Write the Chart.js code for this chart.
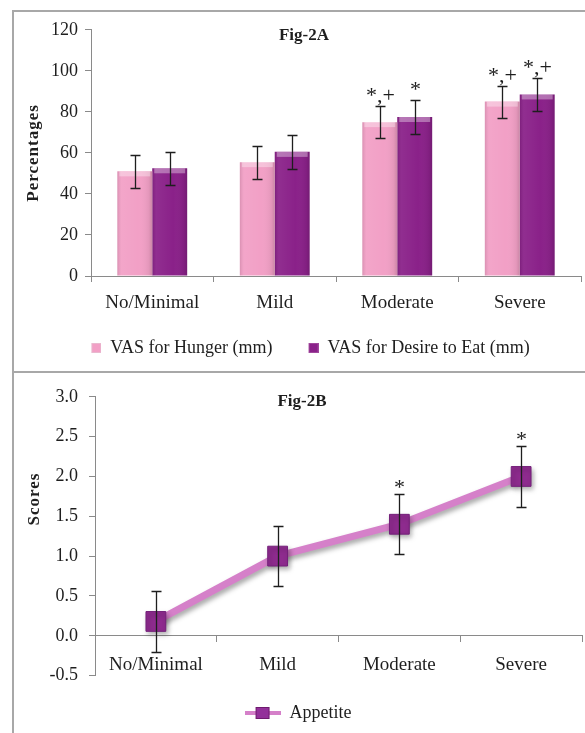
<!DOCTYPE html>
<html>
<head>
<meta charset="utf-8">
<script src="https://cdn.jsdelivr.net/npm/chart.js@4/dist/chart.umd.min.js"></script>
<style>
  html, body { margin: 0; padding: 0; background: #fff; width: 585px; height: 733px; overflow: hidden; }
  .panel { position: absolute; left: 12px; width: 620px; border: 2px solid #a8a8a8; box-sizing: border-box; }
  #panelA { top: 10px; height: 363px; }
  #panelB { top: 371px; height: 400px; }
  canvas { position: absolute; }
</style>
</head>
<body>
<div class="panel" id="panelA"></div>
<div class="panel" id="panelB"></div>
<canvas id="fig2a" width="571" height="359" style="left:14px;top:12px;width:571px;height:359px"></canvas>
<canvas id="fig2b" width="571" height="358" style="left:14px;top:375px;width:571px;height:358px"></canvas>
<script>
// ---- data ----
const severity = ['No/Minimal', 'Mild', 'Moderate', 'Severe'];

const hungerVAS = [51, 55.5, 75, 85];
const hungerErr = [8, 8, 7.8, 7.8];
const hungerMarks = ['', '', '*,+', '*,+'];

const desireVAS = [52.5, 60.5, 77.5, 88.5];
const desireErr = [8.1, 8.2, 8.2, 8.1];
const desireMarks = ['', '', '*', '*,+'];

const percentTicks = [0, 20, 40, 60, 80, 100, 120];

const appetite = [0.18, 1.0, 1.4, 2.0];
const appetiteErr = [0.38, 0.38, 0.375, 0.38];
const appetiteMarks = ['', '', '*', '*'];

const scoreTicks = [-0.5, 0, 0.5, 1.0, 1.5, 2.0, 2.5, 3.0];

// ---- styling ----
const serif = '"Liberation Serif", "Times New Roman", serif';
const ink = '#1e1e1e';
const axisGray = '#8a8a8a';
const pink = '#f2a0c6';
const purple = '#8a2189';
const lineColor = '#d580c9';

function squareSwatch(fill, edge, w) {
  const c = document.createElement('canvas');
  c.width = w; c.height = 10;
  const g = c.getContext('2d');
  g.fillStyle = edge; g.fillRect(w - 10, 0, 10, 10);
  g.fillStyle = fill; g.fillRect(w - 9, 1, 8, 8);
  return c;
}
function lineSwatch() {
  const c = document.createElement('canvas');
  c.width = 36; c.height = 14;
  const g = c.getContext('2d');
  g.strokeStyle = lineColor; g.lineWidth = 4;
  g.beginPath(); g.moveTo(0, 7); g.lineTo(36, 7); g.stroke();
  g.fillStyle = '#6e1a6e'; g.fillRect(11, 1, 14, 12);
  g.fillStyle = '#93309a'; g.fillRect(12, 2, 12, 10);
  return c;
}

// error bars plus significance marks above them
const errorBars = {
  id: 'errorBars',
  afterDatasetsDraw(chart, args, opts) {
    const ctx = chart.ctx;
    const y = chart.scales.y;
    ctx.save();
    ctx.strokeStyle = ink;
    ctx.lineWidth = 1.3;
    ctx.fillStyle = ink;
    ctx.font = opts.markSize + 'px ' + serif;
    ctx.textAlign = 'center';
    ctx.textBaseline = 'alphabetic';
    chart.data.datasets.forEach((ds, i) => {
      if (!ds.errors) return;
      chart.getDatasetMeta(i).data.forEach((el, j) => {
        const v = ds.data[j], e = ds.errors[j];
        const x = Math.round(el.x) + 0.5;
        const top = Math.round(y.getPixelForValue(v + e)) + 0.5;
        const bot = Math.round(y.getPixelForValue(v - e)) + 0.5;
        const cap = 5;
        ctx.beginPath();
        ctx.moveTo(x, top); ctx.lineTo(x, bot);
        ctx.moveTo(x - cap, top); ctx.lineTo(x + cap, top);
        ctx.moveTo(x - cap, bot); ctx.lineTo(x + cap, bot);
        ctx.stroke();
        const mark = ds.marks && ds.marks[j];
        if (mark) ctx.fillText(mark, x, top - opts.markGap);
      });
    });
    ctx.restore();
  }
};

// soft bevel on each bar: light top band, shaded sides
const barSheen = {
  id: 'barSheen',
  afterDatasetsDraw(chart) {
    const ctx = chart.ctx;
    ctx.save();
    chart.data.datasets.forEach((ds, i) => {
      chart.getDatasetMeta(i).data.forEach(el => {
        const left = el.x - el.width / 2, w = el.width;
        const top = el.y, h = el.base - el.y;
        const g = ctx.createLinearGradient(left, 0, left + w, 0);
        g.addColorStop(0, 'rgba(0,0,0,0.10)');
        g.addColorStop(0.12, 'rgba(255,255,255,0.06)');
        g.addColorStop(0.6, 'rgba(255,255,255,0)');
        g.addColorStop(0.9, 'rgba(0,0,0,0.06)');
        g.addColorStop(1, 'rgba(0,0,0,0.16)');
        ctx.fillStyle = g;
        ctx.fillRect(left, top, w, h);
        ctx.fillStyle = 'rgba(255,255,255,0.35)';
        ctx.fillRect(left + 2, top, w - 4, 5);
      });
    });
    ctx.restore();
  }
};

// drop shadow under the line and its markers
const lineShadow = {
  id: 'lineShadow',
  beforeDatasetsDraw(chart) {
    const ctx = chart.ctx;
    ctx.save();
    ctx.shadowColor = 'rgba(0,0,0,0.35)';
    ctx.shadowBlur = 5;
    ctx.shadowOffsetX = 2;
    ctx.shadowOffsetY = 3;
  },
  afterDatasetsDraw(chart) { chart.ctx.restore(); }
};

// panel heading inside the top of the plot area, and the rotated axis caption
const panelTitle = {
  id: 'panelTitle',
  afterDraw(chart, args, opts) {
    const ctx = chart.ctx;
    const a = chart.chartArea;
    ctx.save();
    ctx.font = 'bold 17px ' + serif;
    ctx.fillStyle = ink;
    ctx.textAlign = 'center';
    ctx.textBaseline = 'middle';
    ctx.fillText(opts.text, chart.width / 2 + opts.dx, a.top + opts.dy);
    ctx.translate(opts.sideX, a.top + (a.bottom - a.top) * opts.sideAt);
    ctx.rotate(-Math.PI / 2);
    ctx.letterSpacing = '1px';
    ctx.fillText(opts.sideText, 0, 0);
    ctx.restore();
  }
};

const tickFont = { family: serif, size: 18 };
const catFont = { family: serif, size: 19 };
const legendFont = { family: serif, size: 18 };

// ---- Fig-2A: grouped bars ----
const swatchesA = [squareSwatch(pink, '#e9b9cf', 36), squareSwatch(purple, '#a0489c', 36)];
new Chart(document.getElementById('fig2a'), {
  type: 'bar',
  data: {
    labels: severity,
    datasets: [
      { label: 'VAS for Hunger (mm)', data: hungerVAS, errors: hungerErr, marks: hungerMarks,
        backgroundColor: pink, borderWidth: 0 },
      { label: 'VAS for Desire to Eat (mm)', data: desireVAS, errors: desireErr, marks: desireMarks,
        backgroundColor: purple, borderWidth: 0 }
    ]
  },
  options: {
    responsive: false,
    animation: false,
    layout: { padding: { top: 17, right: 4, bottom: 4, left: 0 } },
    datasets: { bar: { categoryPercentage: 0.57, barPercentage: 1 } },
    scales: {
      x: {
        grid: { drawOnChartArea: false, offset: true, tickLength: 6, color: axisGray },
        border: { color: axisGray },
        ticks: { font: catFont, color: ink, padding: 10 },
        afterFit: s => { s.height = 53; }
      },
      y: {
        min: 0, max: 120,
        afterBuildTicks: s => { s.ticks = percentTicks.map(v => ({ value: v })); },
        grid: { drawOnChartArea: false, tickLength: 6, color: axisGray },
        border: { color: axisGray },
        ticks: { font: tickFont, color: ink, padding: 7 },
        afterFit: s => { s.width = 77; }
      }
    },
    plugins: {
      legend: {
        position: 'bottom',
        labels: {
          usePointStyle: true, pointStyleWidth: 36, padding: 10,
          font: legendFont, color: ink,
          generateLabels(chart) {
            const items = Chart.defaults.plugins.legend.labels.generateLabels(chart);
            items.forEach((it, i) => { it.pointStyle = swatchesA[i]; });
            return items;
          }
        }
      },
      tooltip: { enabled: false },
      errorBars: { markSize: 22, markGap: 5 },
      panelTitle: { text: 'Fig-2A', dx: 4.5, dy: 6, sideText: 'Percentages', sideX: 20, sideAt: 0.5 }
    }
  },
  plugins: [barSheen, errorBars, panelTitle]
});

// ---- Fig-2B: appetite line ----
const swatchB = lineSwatch();
new Chart(document.getElementById('fig2b'), {
  type: 'line',
  data: {
    labels: severity,
    datasets: [
      { label: 'Appetite', data: appetite, errors: appetiteErr, marks: appetiteMarks,
        borderColor: lineColor, borderWidth: 7, tension: 0,
        pointStyle: 'rect', pointRadius: 14, pointHoverRadius: 14,
        pointBackgroundColor: '#8e2b8e', pointBorderColor: '#74207a', pointBorderWidth: 1 }
    ]
  },
  options: {
    responsive: false,
    animation: false,
    layout: { autoPadding: false, padding: { top: 18, right: 3, bottom: 1, left: 0 } },
    scales: {
      x: {
        offset: true,
        position: { y: 0 },
        grid: { drawOnChartArea: false, offset: true, tickLength: 6, color: axisGray },
        border: { color: axisGray },
        ticks: { font: catFont, color: ink, padding: 12 }
      },
      y: {
        min: -0.5, max: 3.0,
        afterBuildTicks: s => { s.ticks = scoreTicks.map(v => ({ value: v })); },
        grid: { drawOnChartArea: false, tickLength: 6, color: axisGray },
        border: { color: axisGray },
        ticks: { font: tickFont, color: ink, padding: 11, callback: v => Number(v).toFixed(1) },
        afterFit: s => { s.width = 81; }
      }
    },
    plugins: {
      legend: {
        position: 'bottom',
        // empty heading keeps a gap between the plot and the legend row
        title: { display: true, text: '', font: { size: 1 }, padding: { top: 8.6, bottom: 8.6 } },
        labels: {
          usePointStyle: true, pointStyleWidth: 36, padding: 10,
          font: legendFont, color: ink,
          generateLabels(chart) {
            const items = Chart.defaults.plugins.legend.labels.generateLabels(chart);
            items.forEach(it => { it.pointStyle = swatchB; });
            return items;
          }
        }
      },
      tooltip: { enabled: false },
      errorBars: { markSize: 22, markGap: 1 },
      panelTitle: { text: 'Fig-2B', dx: 2.5, dy: 5, sideText: 'Scores', sideX: 21, sideAt: 0.367 }
    }
  },
  plugins: [lineShadow, errorBars, panelTitle]
});
</script>
</body>
</html>
